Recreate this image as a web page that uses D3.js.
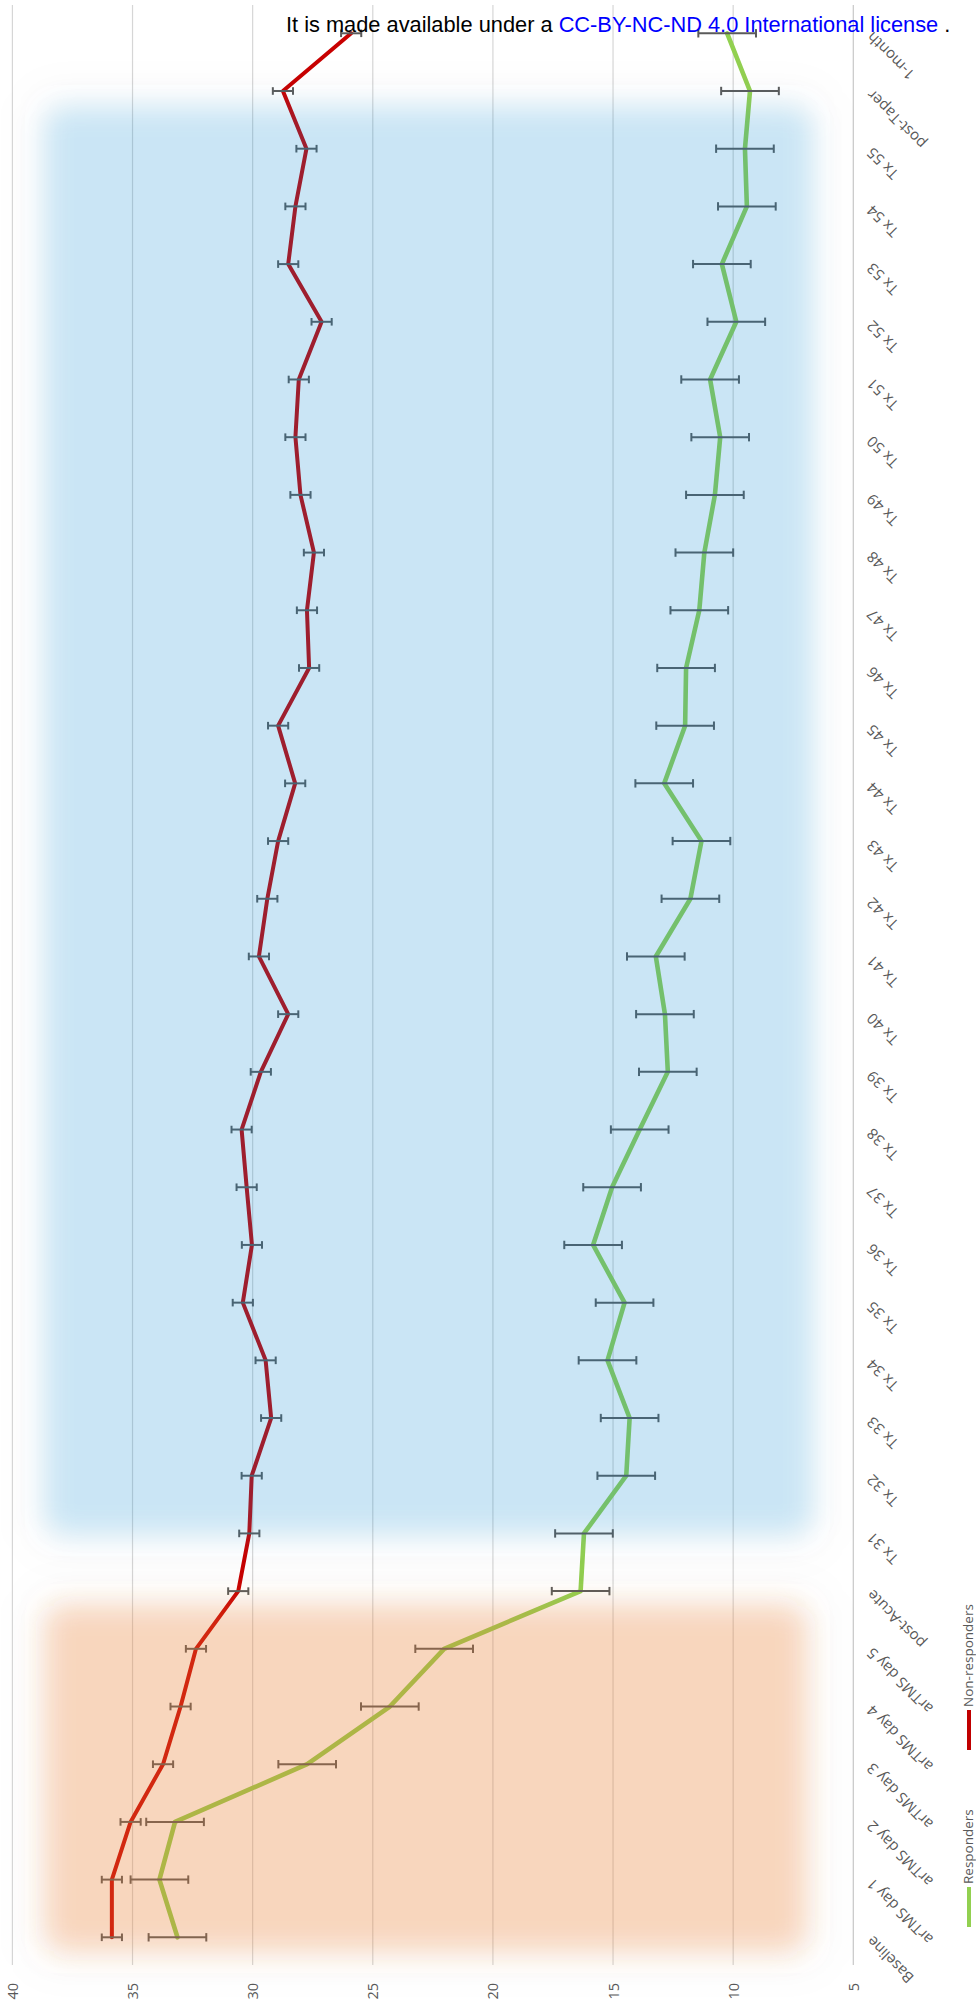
<!DOCTYPE html>
<html><head><meta charset="utf-8">
<script src="https://cdn.jsdelivr.net/npm/d3@7"></script>
<style>html,body{margin:0;padding:0;background:#fff;}svg{display:block;}</style>
</head><body>
<script>
const categories = ["Baseline","arTMS day 1","arTMS day 2","arTMS day 3","arTMS day 4","arTMS day 5","post-Acute",
  "Tx 31","Tx 32","Tx 33","Tx 34","Tx 35","Tx 36","Tx 37","Tx 38","Tx 39","Tx 40","Tx 41","Tx 42","Tx 43",
  "Tx 44","Tx 45","Tx 46","Tx 47","Tx 48","Tx 49","Tx 50","Tx 51","Tx 52","Tx 53","Tx 54","Tx 55","post-Taper","1-month"];
const responders = [33.13,33.88,33.23,27.73,24.29,22.03,16.35,
  16.21,14.45,14.31,15.23,14.52,15.83,15.04,13.89,12.72,12.84,13.22,11.78,11.32,
  12.87,12.00,11.96,11.41,11.20,10.76,10.54,10.96,9.87,10.47,9.43,9.51,9.30,10.25];
const respondersErr = [1.2,1.2,1.2,1.2,1.2,1.2,1.2,1.2,1.2,1.2,1.2,1.2,1.2,1.2,1.2,1.2,1.2,
  1.2,1.2,1.2,1.2,1.2,1.2,1.2,1.2,1.2,1.2,1.2,1.2,1.2,1.2,1.2,1.2,1.2];
const nonResponders = [35.86,35.86,35.08,33.73,33.00,32.36,30.60,
  30.14,30.04,29.23,29.46,30.41,30.03,30.25,30.46,29.66,28.52,29.74,29.39,28.94,
  28.23,28.94,27.65,27.74,27.45,28.01,28.22,28.08,27.13,28.52,28.22,27.76,28.74,25.90];
const nonRespondersErr = [0.42,0.42,0.42,0.42,0.42,0.42,0.42,0.42,0.42,0.42,0.42,0.42,0.42,0.42,0.42,0.42,0.42,
  0.42,0.42,0.42,0.42,0.42,0.42,0.42,0.42,0.42,0.42,0.42,0.42,0.42,0.42,0.42,0.42,0.42];
const valueTicks = [40,35,30,25,20,15,10,5];
const seriesNames = ["Responders","Non-responders"];
const phaseAcute = ["Baseline","arTMS day 5"];
const phaseTx = ["Tx 31","Tx 55"];

const W = 976, H = 2007;
const svg = d3.select("body").append("svg").attr("width", W).attr("height", H);
const defs = svg.append("defs");
const f = defs.append("filter").attr("id","soft").attr("filterUnits","userSpaceOnUse")
  .attr("x",-100).attr("y",-100).attr("width",W+200).attr("height",H+200);
f.append("feGaussianBlur").attr("stdDeviation",14);
const f2 = defs.append("filter").attr("id","halo").attr("filterUnits","userSpaceOnUse")
  .attr("x",-100).attr("y",-100).attr("width",W+200).attr("height",H+200);
f2.append("feGaussianBlur").attr("stdDeviation",18);

const y = d3.scalePoint().domain(categories).range([1937.3, 33.3]);
const x = d3.scaleLinear().domain([40,5]).range([12.4, 853.3]);
const plotTop = 5, plotBottom = 1965;

// gridlines
svg.append("g").selectAll("line").data(valueTicks).join("line")
  .attr("x1", d=>x(d)).attr("x2", d=>x(d)).attr("y1", plotTop).attr("y2", plotBottom)
  .attr("stroke", d=> d===5 ? "#c8c8c8" : "#d6d6d6").attr("stroke-width", 1.2);

const series = [
  {name:"Non-responders", vals:nonResponders, err:nonRespondersErr, color:"#c80000", w:4, cap:3.8},
  {name:"Responders", vals:responders, err:respondersErr, color:"#92d050", w:4.6, cap:4.2}
];
const line = d3.line().x(d=>x(d.v)).y(d=>y(d.c));
series.forEach(s=>{
  const pts = categories.map((c,i)=>({c, v:s.vals[i], e:s.err[i]}));
  svg.append("path").datum(pts).attr("d", line).attr("fill","none")
    .attr("stroke", s.color).attr("stroke-width", s.w).attr("stroke-linejoin","round").attr("stroke-linecap","round");
  const g = svg.append("g").attr("stroke","#5a5a5a").attr("stroke-width",2);
  g.selectAll("line.bar").data(pts).join("line").attr("class","bar")
    .attr("x1", d=>x(d.v - d.e)).attr("x2", d=>x(d.v + d.e)).attr("y1", d=>y(d.c)).attr("y2", d=>y(d.c));
  g.selectAll("line.c1").data(pts).join("line").attr("class","c1")
    .attr("x1", d=>x(d.v - d.e)).attr("x2", d=>x(d.v - d.e)).attr("y1", d=>y(d.c)-s.cap).attr("y2", d=>y(d.c)+s.cap);
  g.selectAll("line.c2").data(pts).join("line").attr("class","c2")
    .attr("x1", d=>x(d.v + d.e)).attr("x2", d=>x(d.v + d.e)).attr("y1", d=>y(d.c)-s.cap).attr("y2", d=>y(d.c)+s.cap);
});

// phase overlays (soft-edged translucent boxes with faint halo)
const step = y.step();
const txTop = y(phaseTx[1]) - step*0.72, txBot = y(phaseTx[0]) + step*0.02;
const acTop = y(phaseAcute[1]) - step*0.75, acBot = y(phaseAcute[0]) + 14;
[[txTop,txBot],[acTop,acBot]].forEach(([a,b])=>{
  svg.append("rect").attr("x",25).attr("width",805).attr("y",a-22).attr("height",b-a+44)
    .attr("rx",30).attr("fill","#8a8a8a").attr("fill-opacity",0.022).attr("filter","url(#halo)");
});
svg.append("rect").attr("x",45).attr("width",812-45)
  .attr("y", txTop).attr("height", txBot - txTop)
  .attr("rx",20).attr("fill","rgb(0,140,215)").attr("fill-opacity",0.2).attr("filter","url(#soft)");
svg.append("rect").attr("x",45).attr("width",806-45)
  .attr("y", acTop).attr("height", acBot - acTop)
  .attr("rx",20).attr("fill","#ED7D31").attr("fill-opacity",0.3).attr("filter","url(#soft)");

// value axis labels
svg.append("g").selectAll("text").data(valueTicks).join("text")
  .attr("transform", d=>`translate(${x(d)},${1983}) rotate(-90)`)
  .attr("text-anchor","end").attr("dominant-baseline","central")
  .attr("font-family","'Open Sans', sans-serif").attr("font-size",14.5).attr("fill","#595959")
  .text(d=>d);

// category labels
svg.append("g").selectAll("text").data(categories).join("text")
  .attr("transform", d=>`translate(${869},${y(d)+2}) rotate(-135)`)
  .attr("text-anchor","end").attr("dominant-baseline","central")
  .attr("font-family","'Open Sans', sans-serif").attr("font-size",15).attr("fill","#595959")
  .text(d=>d);

// legend
const legend = [
  {name:seriesNames[0], color:"#92d050", y0:1927},
  {name:seriesNames[1], color:"#c00000", y0:1750}
];
legend.forEach(l=>{
  svg.append("line").attr("x1",969).attr("x2",969).attr("y1",l.y0).attr("y2",l.y0-40)
    .attr("stroke",l.color).attr("stroke-width",4);
  svg.append("text").attr("transform",`translate(968,${l.y0-43}) rotate(-90)`)
    .attr("text-anchor","start").attr("dominant-baseline","central")
    .attr("font-family","'Open Sans', sans-serif").attr("font-size",13.5).attr("fill","#595959")
    .text(l.name);
});

// header notice
const t = svg.append("text").attr("x",286).attr("y",32)
  .attr("font-family","'Liberation Sans', Arial, sans-serif").attr("font-size",21.8).attr("fill","#000");
t.append("tspan").text("It is made available under a ");
t.append("tspan").attr("fill","#0000ff").text("CC-BY-NC-ND 4.0 International license");
t.append("tspan").text(" .");
</script>
</body></html>
